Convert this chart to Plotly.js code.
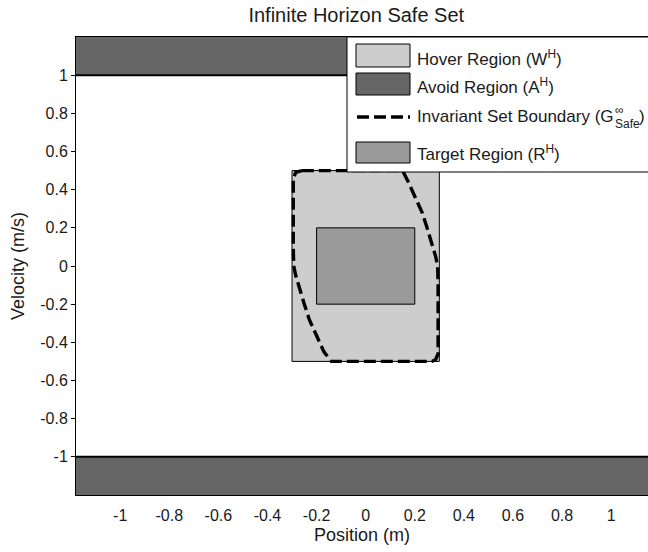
<!DOCTYPE html>
<html>
<head>
<meta charset="utf-8">
<script src="https://cdn.plot.ly/plotly-3.0.1.min.js"></script>
<style>html,body{margin:0;padding:0;background:#fff;}#chart{width:648px;height:552px;}</style>
</head>
<body>
<div id="chart"></div>
<script>
// ---- data ----
const hoverX = [-0.3, 0.3, 0.3, -0.3, -0.3];
const hoverY = [-0.5, -0.5, 0.5, 0.5, -0.5];
const targetX = [-0.2, 0.2, 0.2, -0.2, -0.2];
const targetY = [-0.2, -0.2, 0.2, 0.2, -0.2];
const avoidTopX = [-1.5, 1.5, 1.5, -1.5, -1.5];
const avoidTopY = [1, 1, 1.5, 1.5, 1];
const avoidBotX = [-1.5, 1.5, 1.5, -1.5, -1.5];
const avoidBotY = [-1, -1, -1.5, -1.5, -1];
const boundaryX = [-0.26, 0.15, 0.17, 0.20, 0.23, 0.25, 0.27, 0.285, 0.293, 0.295, 0.295, 0.285, 0.27,
                   -0.14, -0.17, -0.20, -0.23, -0.25, -0.27, -0.285, -0.293, -0.295, -0.295, -0.285, -0.26];
const boundaryY = [0.50, 0.50, 0.45, 0.37, 0.28, 0.20, 0.12, 0.05, 0.00, -0.10, -0.46, -0.49, -0.50,
                   -0.50, -0.45, -0.37, -0.28, -0.20, -0.12, -0.05, 0.00, 0.10, 0.46, 0.49, 0.50];
const xTicks = [-1, -0.8, -0.6, -0.4, -0.2, 0, 0.2, 0.4, 0.6, 0.8, 1];
const yTicks = [-1, -0.8, -0.6, -0.4, -0.2, 0, 0.2, 0.4, 0.6, 0.8, 1];
const legendLabels = ['Hover Region (W<sup>H</sup>)', 'Avoid Region (A<sup>H</sup>)',
                      'Invariant Set Boundary (G', 'Target Region (R<sup>H</sup>)'];
const invSup = '∞', invSub = 'Safe', invClose = ')';

const cHover = '#cdcdcd', cAvoid = '#666666', cTarget = '#9a9a9a';
const FONT = 'Liberation Sans, Arial, sans-serif';
const TXT = '#1a1a1a';
const LEG = 17;

const traces = [
  {x: avoidTopX, y: avoidTopY, fill: 'toself', fillcolor: cAvoid, mode: 'lines', line: {color: '#000', width: 2}, hoverinfo: 'skip'},
  {x: avoidBotX, y: avoidBotY, fill: 'toself', fillcolor: cAvoid, mode: 'lines', line: {color: '#000', width: 2}, hoverinfo: 'skip'},
  {x: hoverX, y: hoverY, fill: 'toself', fillcolor: cHover, mode: 'lines', line: {color: '#000', width: 1}, hoverinfo: 'skip'},
  {x: targetX, y: targetY, fill: 'toself', fillcolor: cTarget, mode: 'lines', line: {color: '#000', width: 1}, hoverinfo: 'skip'},
  {x: boundaryX, y: boundaryY, mode: 'lines', line: {color: '#000', width: 3.4, dash: '12px,5px'}, hoverinfo: 'skip'}
];

// custom MATLAB-like legend (paper coords)
const L = 76, W = 572, B = 495, H = 458;
const px = v => (v - L) / W, py = v => (B - v) / H;
const shapes = [
  {type: 'rect', xref: 'paper', yref: 'paper', x0: px(347), x1: 1.05, y0: py(172), y1: py(37), fillcolor: '#fff', line: {color: '#000', width: 1}, layer: 'above'},
  {type: 'rect', xref: 'paper', yref: 'paper', x0: px(356), x1: px(410), y0: py(67), y1: py(44), fillcolor: cHover, line: {color: '#000', width: 1}, layer: 'above'},
  {type: 'rect', xref: 'paper', yref: 'paper', x0: px(356), x1: px(410), y0: py(95), y1: py(73), fillcolor: cAvoid, line: {color: '#000', width: 1}, layer: 'above'},
  {type: 'line', xref: 'paper', yref: 'paper', x0: px(357), x1: px(410), y0: py(117), y1: py(117), line: {color: '#000', width: 3.4, dash: '12px,5px'}, layer: 'above'},
  {type: 'rect', xref: 'paper', yref: 'paper', x0: px(356), x1: px(410), y0: py(163), y1: py(142), fillcolor: cTarget, line: {color: '#000', width: 1}, layer: 'above'}
];
const textY = [58, 86, 117, 153];
const annotations = legendLabels.map((t, i) => ({
  xref: 'paper', yref: 'paper', x: px(415), y: py(textY[i]), xanchor: 'left', yanchor: 'middle',
  text: t, showarrow: false, font: {family: FONT, size: LEG, color: TXT}
}));
// stacked super/subscript for G
const ctx = document.createElement('canvas').getContext('2d');
ctx.font = LEG + 'px "Liberation Sans"';
const wMain = ctx.measureText(legendLabels[2]).width;
ctx.font = '12px "Liberation Sans"';
const wSub = ctx.measureText(invSub).width;
const gx = 415 + wMain + 1;
annotations.push({xref: 'paper', yref: 'paper', x: px(gx), y: py(110), xanchor: 'left', yanchor: 'middle',
  text: invSup, showarrow: false, font: {family: FONT, size: 12, color: TXT}});
annotations.push({xref: 'paper', yref: 'paper', x: px(gx), y: py(124), xanchor: 'left', yanchor: 'middle',
  text: invSub, showarrow: false, font: {family: FONT, size: 12, color: TXT}});
annotations.push({xref: 'paper', yref: 'paper', x: px(gx + wSub), y: py(117), xanchor: 'left', yanchor: 'middle',
  text: invClose, showarrow: false, font: {family: FONT, size: LEG, color: TXT}});

const layout = {
  width: 648, height: 552,
  margin: {l: 76, r: 0, t: 37, b: 57},
  paper_bgcolor: '#fff', plot_bgcolor: '#fff',
  showlegend: false,
  title: {text: 'Infinite Horizon Safe Set', x: 0.49, xref: 'paper', xanchor: 'center', y: 0.973, yanchor: 'middle',
          font: {family: FONT, size: 20, color: TXT}},
  xaxis: {range: [-1.18, 1.15], tickvals: xTicks, ticktext: xTicks.map(String), showgrid: false, zeroline: false,
          showline: true, linecolor: '#000', linewidth: 1, mirror: true, ticks: 'outside', ticklen: 6, tickcolor: 'rgba(0,0,0,0)',
          tickfont: {family: FONT, size: 16, color: TXT},
          title: {text: 'Position (m)', font: {family: FONT, size: 18, color: TXT}, standoff: 5}},
  yaxis: {range: [-1.2, 1.2], tickvals: yTicks, ticktext: yTicks.map(String), showgrid: false, zeroline: false,
          showline: true, linecolor: '#000', linewidth: 1, mirror: false, ticks: 'outside', ticklen: 4, tickcolor: '#000',
          tickfont: {family: FONT, size: 16, color: TXT},
          title: {text: 'Velocity (m/s)', font: {family: FONT, size: 18, color: TXT}, standoff: 10}},
  shapes: shapes,
  annotations: annotations
};

Plotly.newPlot('chart', traces, layout, {staticPlot: true, displayModeBar: false});
</script>
</body>
</html>
